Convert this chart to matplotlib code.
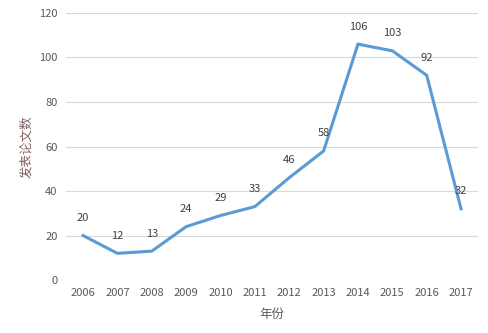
import matplotlib.pyplot as plt

plt.rcParams['font.family'] = ['Noto Sans CJK SC', 'DejaVu Sans']

years = ['2006', '2007', '2008', '2009', '2010', '2011',
         '2012', '2013', '2014', '2015', '2016', '2017']
papers = [20, 12, 13, 24, 29, 33, 46, 58, 106, 103, 92, 32]

fig = plt.figure(figsize=(4.88, 3.33), dpi=100)
ax = fig.add_axes([0.135, 0.159, 0.845, 0.802])

x = range(len(years))
ax.plot(x, papers, color='#5B9BD5', linewidth=2.2, solid_joinstyle='miter')

for i, v in zip(x, papers):
    ax.annotate(str(v), (i, v), xytext=(0, 9), textcoords='offset points',
                ha='center', va='bottom', fontsize=8, color='#404040')

ax.set_xlim(-0.5, len(years) - 0.5)
ax.set_ylim(0, 120)
ax.set_yticks(range(0, 121, 20))
ax.set_xticks(list(x))
ax.set_xticklabels(years)
ax.grid(axis='y', color='#D9D9D9', linewidth=0.8)
ax.set_axisbelow(True)
for s in ax.spines.values():
    s.set_visible(False)
ax.tick_params(length=0, labelsize=8, labelcolor='#595959', pad=6)

ax.set_xlabel('年份', fontsize=9, color='#595959', labelpad=7)
ax.set_ylabel('发表论文数', fontsize=9, color='#7F6060', labelpad=4)

fig.savefig('out.png', dpi=100)
